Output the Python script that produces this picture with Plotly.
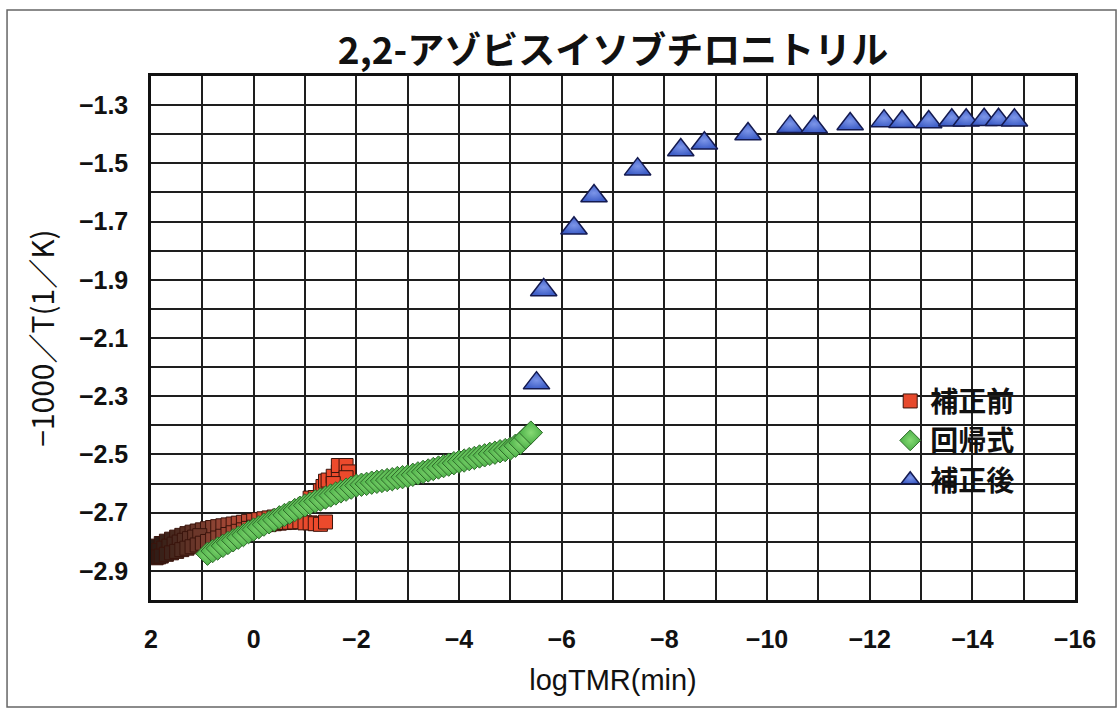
import plotly.graph_objects as go

# ---------------- data ----------------
title_text = "2,2-アゾビスイソブチロニトリル"
x_title = "logTMR(min)"
y_title = "−1000／T(1／K)"
series_names = ["補正前", "回帰式", "補正後"]

# 補正前 (raw, red squares)
before_x = [-1.00, -1.10, -1.20, -1.30, -1.35, -1.40, -1.45, -1.55, -1.65, -1.65, -1.80, -1.85,
            -1.80, -1.55,
            1.90, 1.80, 1.70, 1.60, 1.50, 1.40, 1.30, 1.20, 1.10, 1.00, 0.90, 0.80, 0.70, 0.60,
            0.50, 0.40, 0.30, 0.20, 0.10, 0.00, -0.10, -0.20, -0.30, -0.40, -0.50, -0.60, -0.70,
            -0.80, -0.90,
            1.90, 1.85, 1.75, 1.65, 1.55, 1.45, 1.35, 1.25, 1.15, 1.05,
            1.90, 1.85, 1.80, 1.70, 1.60, 1.50, 1.40, 1.30, 1.20, 1.10, 1.00, 0.90, 0.80, 0.70,
            0.60, 0.50, 0.40, 0.30, 0.20, 0.10, 0.00, -0.10, -0.20, -0.30, -0.40, -0.50, -0.60,
            -0.70, -0.80, -0.90,
            -1.00, -1.10, -1.20, -1.30, -1.40]
before_y = [-2.672, -2.650, -2.648, -2.625, -2.610, -2.592, -2.588, -2.575, -2.560, -2.538,
            -2.538, -2.560, -2.580, -2.600,
            -2.815, -2.806, -2.798, -2.791, -2.784, -2.778, -2.772, -2.767, -2.763, -2.759,
            -2.755, -2.751, -2.748, -2.745, -2.742, -2.739, -2.736, -2.733, -2.730, -2.727,
            -2.724, -2.721, -2.718, -2.715, -2.712, -2.708, -2.704, -2.699, -2.692,
            -2.835, -2.830, -2.822, -2.815, -2.808, -2.801, -2.795, -2.789, -2.784, -2.779,
            -2.855, -2.852, -2.849, -2.843, -2.838, -2.833, -2.827, -2.822, -2.817, -2.811,
            -2.805, -2.799, -2.793, -2.787, -2.781, -2.775, -2.769, -2.764, -2.759, -2.754,
            -2.750, -2.747, -2.744, -2.741, -2.738, -2.736, -2.734, -2.733, -2.732, -2.731,
            -2.735, -2.735, -2.738, -2.740, -2.732]

# 回帰式 (regression, green diamonds)
reg_x = [0.9, 0.8, 0.7, 0.6, 0.5, 0.4, 0.3, 0.2, 0.1, 0.0,
         -0.1, -0.2, -0.3, -0.4, -0.5, -0.6, -0.7, -0.8, -0.9, -1.0,
         -1.1, -1.2, -1.3, -1.4, -1.5, -1.6, -1.7, -1.8, -1.9, -2.0,
         -2.1, -2.2, -2.3, -2.4, -2.5, -2.6, -2.7, -2.8, -2.9, -3.0,
         -3.1, -3.2, -3.3, -3.4, -3.5, -3.6, -3.7, -3.8, -3.9, -4.0,
         -4.1, -4.2, -4.3, -4.4, -4.5, -4.6, -4.7, -4.8, -4.9, -5.0,
         -5.1, -5.2, -5.3, -5.4]
reg_y = [-2.841, -2.832, -2.823, -2.814, -2.804, -2.795, -2.786, -2.777, -2.767, -2.758,
         -2.750, -2.741, -2.733, -2.725, -2.716, -2.708, -2.700, -2.691, -2.683, -2.675,
         -2.668, -2.661, -2.655, -2.648, -2.641, -2.634, -2.627, -2.621, -2.614, -2.607,
         -2.604, -2.601, -2.597, -2.594, -2.591, -2.588, -2.585, -2.581, -2.578, -2.575,
         -2.570, -2.565, -2.560, -2.555, -2.550, -2.545, -2.540, -2.535, -2.530, -2.525,
         -2.521, -2.516, -2.512, -2.507, -2.503, -2.498, -2.494, -2.489, -2.485, -2.480,
         -2.470, -2.460, -2.442, -2.425]

# 補正後 (corrected, blue triangles)
after_x = [-5.51, -5.65, -6.24, -6.63, -7.48, -8.32, -8.78, -9.63, -10.45, -10.92,
           -11.62, -12.28, -12.63, -13.15, -13.60, -13.88, -14.23, -14.51, -14.82]
after_y = [-2.255, -1.935, -1.723, -1.612, -1.520, -1.454, -1.431, -1.399, -1.374, -1.375,
           -1.365, -1.355, -1.357, -1.358, -1.352, -1.352, -1.350, -1.350, -1.352]

x_range = [2, -16]
y_range = [-3.0, -1.2]

# ---------------- figure ----------------
fig = go.Figure()

# raw points: colour shades from red (right) to dark brown (left), as in the scan
red_scale = [[0.0, "#EC4A2C"], [0.35, "#D04A32"], [0.6, "#8E4434"], [0.85, "#4A2A20"], [1.0, "#2C1A14"]]
fig.add_trace(go.Scatter(
    x=before_x, y=before_y, mode="markers", name=series_names[0],
    marker=dict(symbol="square", size=14, color=before_x, colorscale=red_scale,
                cmin=-1.2, cmax=1.9, showscale=False,
                line=dict(color="#3A140C", width=1)),
))
fig.add_trace(go.Scatter(
    x=reg_x, y=reg_y, mode="markers", name=series_names[1],
    marker=dict(symbol="diamond", size=18, color="#4CB048",
                gradient=dict(type="radial", color="#86DA74"),
                line=dict(color="#2F6B2A", width=1)),
))
fig.add_trace(go.Scatter(
    x=after_x, y=after_y, mode="markers", name=series_names[2],
    marker=dict(symbol="triangle-up", size=23, color="#3F5FC8",
                gradient=dict(type="radial", color="#7C95E8"),
                line=dict(color="#141A50", width=1.5)),
))

grid_color = "#1E1E1E"
tick_font = dict(family="Liberation Sans, Arial, sans-serif", size=25, color="#111", weight="bold")

fig.update_xaxes(
    range=x_range, tick0=0, dtick=2, showgrid=True, gridcolor=grid_color, gridwidth=1.5,
    minor=dict(dtick=1, tick0=0, showgrid=True, gridcolor=grid_color, gridwidth=1.5),
    zeroline=False, showline=True, mirror=True, linecolor="#111", linewidth=2.5,
    ticks="", ticklabelstandoff=15, tickfont=tick_font,
    title=dict(text=x_title, standoff=18,
               font=dict(family="Liberation Sans, Arial, sans-serif", size=29, color="#111")),
)
fig.update_yaxes(
    range=y_range, tick0=-1.3, dtick=0.2, showgrid=True, gridcolor=grid_color, gridwidth=1.5,
    minor=dict(dtick=0.1, tick0=-1.2, showgrid=True, gridcolor=grid_color, gridwidth=1.5),
    zeroline=False, showline=True, mirror=True, linecolor="#111", linewidth=2.5,
    ticks="", ticklabelstandoff=15, tickfont=tick_font,
    title=dict(text=y_title, standoff=16,
               font=dict(family="Noto Sans CJK JP, sans-serif", size=30, color="#111")),
)

fig.update_layout(
    width=1119, height=710,
    margin=dict(l=151, r=44, t=76, b=110),
    paper_bgcolor="white", plot_bgcolor="white",
    title=dict(text=title_text, x=0.5, xref="paper", y=0.928, yanchor="middle",
               font=dict(family="Noto Sans CJK JP, sans-serif", size=37, color="#111", weight="bold")),
    legend=dict(x=0.80, y=0.427, xanchor="left", yanchor="top",
                bgcolor="rgba(0,0,0,0)", borderwidth=0,
                font=dict(family="Noto Sans CJK JP, sans-serif", size=28, color="#111", weight="bold"),
                tracegroupgap=0),
    showlegend=True,
    shapes=[dict(type="rect", xref="paper", yref="paper",
                 x0=-0.1558, x1=1.0444, y0=-0.2042, y1=1.126,
                 line=dict(color="#666", width=1.5), fillcolor="rgba(0,0,0,0)", layer="below")],
)

fig.write_html("out.html", config={"displayModeBar": False},
               post_script="document.body.style.margin='0';")
